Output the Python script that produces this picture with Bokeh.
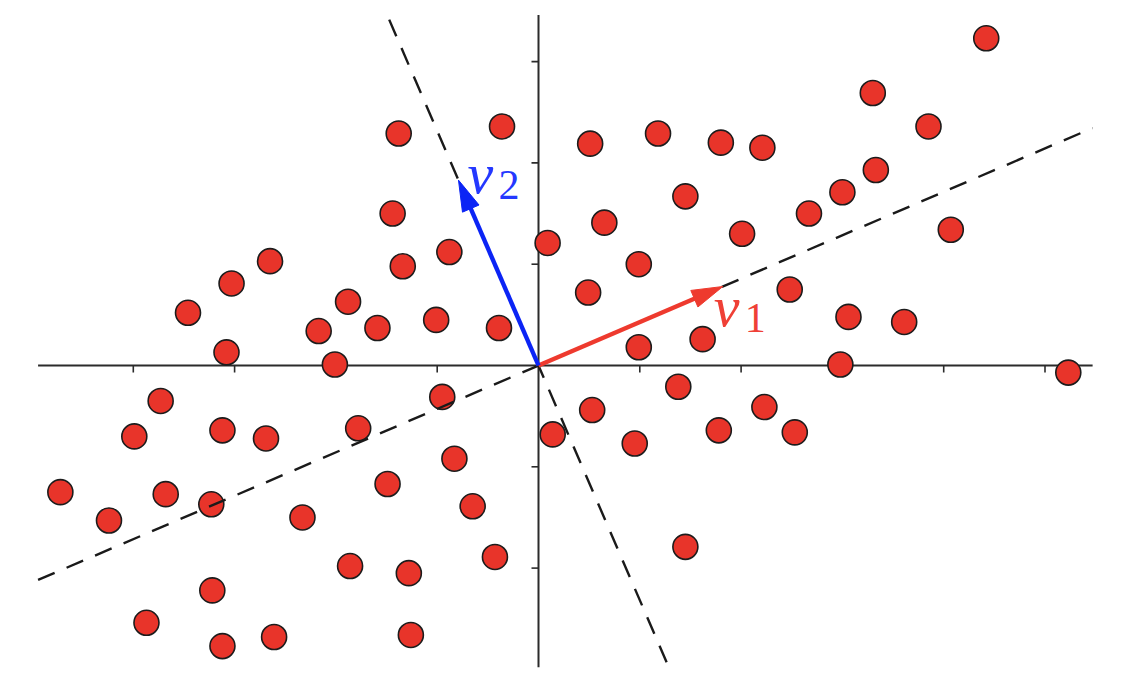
import numpy as np
from bokeh.plotting import figure
from bokeh.models import Range1d
from bokeh.embed import file_html
from bokeh.resources import INLINE
from bokeh.core.properties import value

# ---- data -------------------------------------------------------------
pts_x = [4.42, 3.30, 3.85, 3.33, 3.00, 2.67, 4.07, 2.01, 1.45, 0.65, 0.09, 0.99,
         0.49, 0.51, 1.18, 1.80, 2.21, 2.48, 3.06, 3.61, 0.99, 1.62, 2.98,
         5.23, 1.38, 0.53, 0.14, 0.95, 1.78, 2.23, 2.53, 1.45,
         -1.38, -0.36, -1.44, -0.88, -1.34, -2.65, -3.03, -3.46, -1.88, -2.17,
         -1.59, -1.01, -0.39, -3.08, -2.01,
         -3.73, -3.99, -3.12, -2.69, -1.78, -0.95, -0.83, -1.49, -0.65, -4.72,
         -4.24, -3.68, -3.23, -2.33, -0.43, -1.86, -1.28, -3.22, -3.87, -3.12,
         -2.61, -1.26]
pts_y = [3.23, 2.69, 2.36, 1.93, 1.71, 1.50, 1.34, 1.30, 1.67, 1.41, 1.21, 1.00,
         0.72, 2.19, 2.29, 2.20, 2.15, 0.75, 0.48, 0.43, 0.18, 0.26, 0.01,
         -0.07, -0.21, -0.44, -0.68, -0.77, -0.64, -0.41, -0.66, -1.79,
         2.29, 2.36, 1.50, 1.12, 0.98, 1.03, 0.81, 0.52, 0.63, 0.34,
         0.37, 0.45, 0.37, 0.13, 0.01,
         -0.35, -0.70, -0.64, -0.72, -0.62, -0.31, -0.92, -1.17, -1.39, -1.25,
         -1.53, -1.27, -1.37, -1.50, -1.89, -1.98, -2.05, -2.22, -2.54, -2.77,
         -2.68, -2.66]

x_ticks = [-4, -3, -2, -1, 1, 2, 3, 4, 5]
y_ticks = [-2, -1, 1, 2, 3]
x_axis_extent = [-4.94, 5.47]
y_axis_extent = [-2.98, 3.46]

v1 = [1.82, 0.78]      # first principal direction (scaled)
v2 = [-0.79, 1.83]     # second principal direction (scaled)
v_labels = ["1", "2"]
pc2_extent = [-2.93, 3.47]   # y-extent of the dashed line along v2

# ---- layout constants -------------------------------------------------
PX = 101.3          # screen pixels per data unit
W, H = 1110, 672
OX, OY = 538, 365   # screen position of the origin
RED = "#e8342a"
ARROW_RED = "#ee3a2e"
BLUE = "#0b24f5"
AX = "#2b2b2b"

p = figure(width=W, height=H, output_backend="svg", toolbar_location=None,
           x_range=Range1d(-OX / PX, (W - OX) / PX),
           y_range=Range1d(-(H - OY) / PX, OY / PX),
           x_axis_type=None, y_axis_type=None, min_border=0)
p.outline_line_color = None
p.background_fill_color = "white"
p.border_fill_color = "white"

# axes
p.segment(x0=[x_axis_extent[0]], y0=[0], x1=[x_axis_extent[1]], y1=[0],
          line_color=AX, line_width=2)
p.segment(x0=[0], y0=[y_axis_extent[0]], x1=[0], y1=[y_axis_extent[1]],
          line_color=AX, line_width=2)
tl = 7 / PX
p.segment(x0=x_ticks, y0=[0] * len(x_ticks), x1=x_ticks, y1=[-tl] * len(x_ticks),
          line_color=AX, line_width=1.6)
p.segment(x0=[0] * len(y_ticks), y0=y_ticks, x1=[-tl] * len(y_ticks), y1=y_ticks,
          line_color=AX, line_width=1.6)

# points
p.scatter(pts_x, pts_y, size=25, fill_color=RED, line_color="#1c1c1c", line_width=1.6)

# dashed principal axes
s1 = v1[1] / v1[0]
p.line(x_axis_extent, [x * s1 for x in x_axis_extent], line_color="#1a1a1a",
       line_width=2.4, line_dash="18 13")
s2 = v2[0] / v2[1]
p.line([y * s2 for y in pc2_extent], pc2_extent, line_color="#1a1a1a",
       line_width=2.4, line_dash="18 13")

# arrows
HL, HW = 31 / PX, 18 / PX
for vec, col in ((v1, ARROW_RED), (v2, BLUE)):
    v = np.array(vec, dtype=float)
    n = np.linalg.norm(v)
    d = v / n
    perp = np.array([-d[1], d[0]])
    base = v - HL * d
    shaft_end = v - 0.8 * HL * d
    p.line([0, shaft_end[0]], [0, shaft_end[1]], line_color=col, line_width=4.4)
    c1 = base + perp * HW / 2
    c2 = base - perp * HW / 2
    p.patch([v[0], c1[0], c2[0]], [v[1], c1[1], c2[1]], fill_color=col,
            line_color=col, line_width=1)

# labels
for vec, lab, col, dx, dy in ((v1, v_labels[0], "#ef4036", -9, 20),
                              (v2, v_labels[1], "#2438ff", 9, -7)):
    p.text(x=[vec[0]], y=[vec[1]], text=["v"], x_offset=dx, y_offset=dy,
           text_font=value("Liberation Serif"), text_font_style="italic",
           text_font_size="58px", text_color=col, text_align="left",
           text_baseline="alphabetic")
    p.text(x=[vec[0]], y=[vec[1]], text=[lab], x_offset=dx + 31, y_offset=dy + 12,
           text_font=value("Liberation Serif"), text_font_size="42px",
           text_color=col, text_align="left", text_baseline="alphabetic")

open("out.html", "w").write(file_html(p, INLINE))
